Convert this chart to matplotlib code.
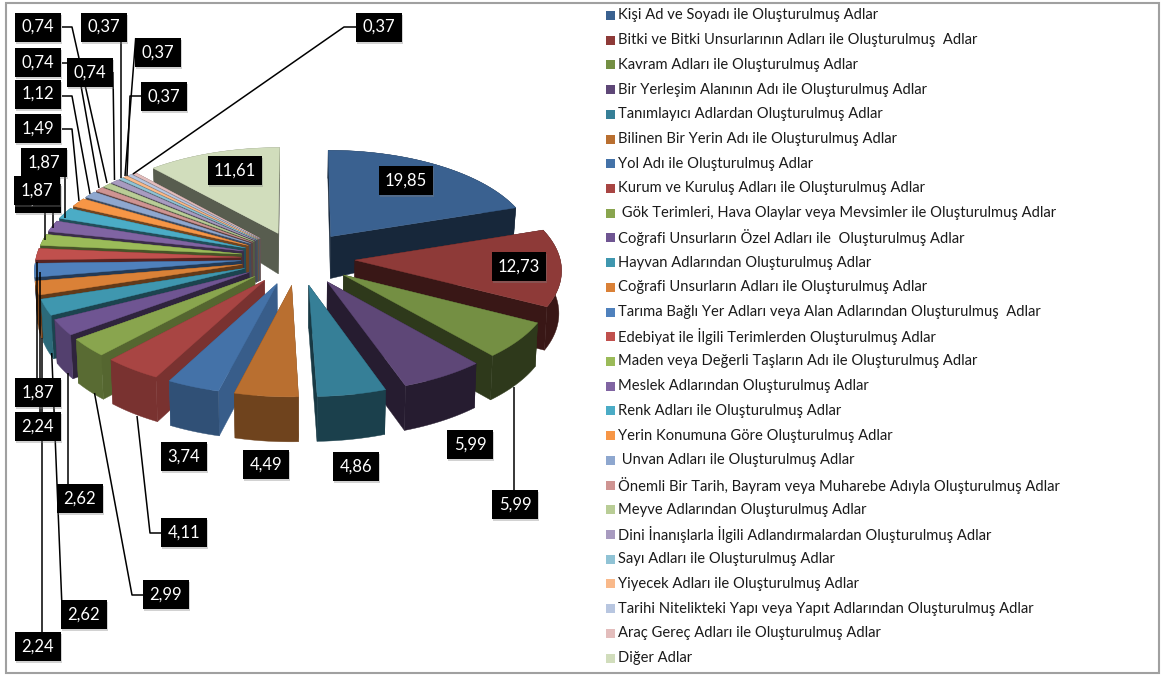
import matplotlib
matplotlib.use("Agg")
import matplotlib.pyplot as plt
from matplotlib.colors import to_rgb
from matplotlib.patches import Polygon, Rectangle
import numpy as np

plt.rcParams['font.family'] = ['Lato', 'DejaVu Sans']

# legend names, same order as the slices
names = ["Kişi Ad ve Soyadı ile Oluşturulmuş Adlar",
         "Bitki ve Bitki Unsurlarının Adları ile Oluşturulmuş  Adlar",
         "Kavram Adları ile Oluşturulmuş Adlar",
         "Bir Yerleşim Alanının Adı ile Oluşturulmuş Adlar",
         "Tanımlayıcı Adlardan Oluşturulmuş Adlar",
         "Bilinen Bir Yerin Adı ile Oluşturulmuş Adlar",
         "Yol Adı ile Oluşturulmuş Adlar",
         "Kurum ve Kuruluş Adları ile Oluşturulmuş Adlar",
         " Gök Terimleri, Hava Olaylar veya Mevsimler ile Oluşturulmuş Adlar",
         "Coğrafi Unsurların Özel Adları ile  Oluşturulmuş Adlar",
         "Hayvan Adlarından Oluşturulmuş Adlar",
         "Coğrafi Unsurların Adları ile Oluşturulmuş Adlar",
         "Tarıma Bağlı Yer Adları veya Alan Adlarından Oluşturulmuş  Adlar",
         "Edebiyat ile İlgili Terimlerden Oluşturulmuş Adlar",
         "Maden veya Değerli Taşların Adı ile Oluşturulmuş Adlar",
         "Meslek Adlarından Oluşturulmuş Adlar",
         "Renk Adları ile Oluşturulmuş Adlar",
         "Yerin Konumuna Göre Oluşturulmuş Adlar",
         " Unvan Adları ile Oluşturulmuş Adlar",
         "Önemli Bir Tarih, Bayram veya Muharebe Adıyla Oluşturulmuş Adlar",
         "Meyve Adlarından Oluşturulmuş Adlar",
         "Dini İnanışlarla İlgili Adlandırmalardan Oluşturulmuş Adlar",
         "Sayı Adları ile Oluşturulmuş Adlar",
         "Yiyecek Adları ile Oluşturulmuş Adlar",
         "Tarihi Nitelikteki Yapı veya Yapıt Adlarından Oluşturulmuş Adlar",
         "Araç Gereç Adları ile Oluşturulmuş Adlar",
         "Diğer Adlar"]

values = [19.85, 12.73, 5.99, 5.99, 4.86, 4.49, 3.74, 4.11, 2.99, 2.62, 2.62, 2.24, 2.24,
          1.87, 1.87, 1.87, 1.87, 1.49, 1.12, 0.74, 0.74, 0.74, 0.37, 0.37, 0.37, 0.37, 11.61]

colors = ["#3A6190", "#8E3A38", "#748F43", "#5E4777", "#367F97", "#B96F30",
          "#4472A8", "#A84543", "#89A54E", "#6F5592", "#3F97AF", "#DA8137",
          "#4F81BD", "#C0504D", "#9BBB59", "#8064A2", "#4BACC6", "#F79646",
          "#8EA7CF", "#CF9492", "#B9CD96", "#A89BC0", "#90C3D5", "#F9B98A",
          "#B8C6E0", "#E3BDBC", "#D1DDBC"]

# how dark the side walls of each slice are
radial_dark = [.4, .4, .4, .4, .45, .6, .82, .72, .62, .42, .45, .45, .45,
               .45, .45, .45, .45, .45, .45, .45, .45, .45, .45, .45, .45, .45, .42]
outer_dark = [.4, .4, .4, .4, .5, .6, .7, .72, .65, .75, .7, .6, .6,
              .6, .6, .6, .6, .6, .6, .6, .6, .6, .6, .6, .6, .6, .6]

# projection of the tilted pie
cx, cy = 298, 258
R = 205
A = 97
p = 0.085
explode = 0.278


def project(u, v):
    s = 1 / (1 - p * v)
    return cx + R * u * s, cy + A * v * s


def depth(v):
    return np.interp(v, [-0.55, -0.225, 1.3], [28, 42, 45])


def wall(u, v):
    # top edge and the same edge pushed down, as one polygon
    x, y = project(u, v)
    d = depth(v)
    xb = cx + (x - cx) * 0.99
    yb = y + d
    return np.column_stack([np.r_[x, xb[::-1]], np.r_[y, yb[::-1]]])


fig = plt.figure(figsize=(11.61, 6.75), dpi=100)
ax = fig.add_axes([0, 0, 1, 1])
ax.set_xlim(0, 1161)
ax.set_ylim(675, 0)
ax.axis('off')

ax.add_patch(Rectangle((6, 2.5), 1153, 670, fc='white', ec='#A0A0A0', lw=1.5))

total = sum(values)
edges = np.cumsum([0] + values) / total * 2 * np.pi

slices = []
for i in range(len(values)):
    a0, a1 = edges[i], edges[i + 1]
    mid = (a0 + a1) / 2
    ux, vx = explode * np.sin(mid), -explode * np.cos(mid)
    t = np.linspace(a0, a1, 40)
    us = ux + np.sin(t)
    vs = vx - np.cos(t)
    slices.append((project(ux + np.sin(mid), vx - np.cos(mid))[1], i, ux, vx, us, vs))

# far slices first
slices.sort(key=lambda s: s[0])

for _, i, ux, vx, us, vs in slices:
    top = to_rgb(colors[i])
    rad_col = tuple(c * radial_dark[i] for c in top)
    out_col = tuple(c * outer_dark[i] for c in top)
    faces = [(np.array([ux, us[0]]), np.array([vx, vs[0]]), rad_col),
             (np.array([ux, us[-1]]), np.array([vx, vs[-1]]), rad_col),
             (us, vs, out_col)]
    faces.sort(key=lambda f: project(f[0], f[1])[1].mean())
    for fu, fv, col in faces:
        ax.add_patch(Polygon(wall(fu, fv), closed=True, fc=col, ec=col, lw=0.3))
    x, y = project(np.r_[ux, us], np.r_[vx, vs])
    ax.add_patch(Polygon(np.column_stack([x, y]), closed=True, fc=top, ec=top, lw=0.3))

# leader lines, box side to slice
leaders = [[(356, 27), (344, 27), (133, 174)],
           [(121, 41), (121, 178)],
           [(135.7, 38), (125, 176)],
           [(141, 96), (130, 96), (127, 176)],
           [(113, 72), (114.5, 180)],
           [(62, 27), (72, 27), (107, 183)],
           [(62, 63), (77, 63), (99, 188)],
           [(62, 96), (72, 96), (90, 194)],
           [(62, 129), (72, 129), (79, 201)],
           [(65, 177), (65, 218)],
           [(53, 205), (53, 228)],
           [(44.5, 213), (44.5, 240)],
           [(37, 378), (37, 262)],
           [(39.5, 412), (39.5, 272)],
           [(42, 632), (42, 338)],
           [(68, 484), (68, 373)],
           [(61.7, 600), (51.7, 353)],
           [(143, 595), (132, 595), (94.5, 393)],
           [(161, 533), (150, 533), (137, 416)],
           [(514, 490), (514, 387)]]
for pts in leaders:
    ax.plot([q[0] for q in pts], [q[1] for q in pts], color='black', lw=1.1,
            solid_capstyle='butt', zorder=5)

# value boxes, drawn in order so a later box hides an earlier one
label_text = ["1,87", "0,74", "0,37", "0,37", "0,37", "0,74", "0,74", "1,12", "1,49", "1,87", "1,87",
              "0,37", "1,87", "2,24", "2,62", "3,74", "4,49", "4,86", "4,11", "2,99", "2,62", "2,24",
              "5,99", "5,99", "19,85", "12,73", "11,61"]
label_x = [38, 38, 104, 158, 164, 38, 90, 38, 38, 44, 37,
           379, 38, 38, 80, 184, 266, 356, 184, 166, 84, 38,
           470, 515, 406, 519, 234.5]
label_y = [198.5, 27, 27, 52.5, 96.5, 62.5, 72.5, 94, 128.5, 162.5, 190.5,
           27, 392.5, 426.5, 498.5, 456.5, 464.5, 466.5, 532.5, 594.5, 614.5, 646.5,
           444.5, 504.5, 180.5, 266.5, 170.5]
z = 10
for txt, x, y in zip(label_text, label_x, label_y):
    w = 54 if len(txt) > 4 else 46
    ax.add_patch(Rectangle((x - w / 2 + 1, y - 14.5 + 2), w, 29, fc='#808080', ec='none',
                           alpha=0.35, zorder=z))
    ax.add_patch(Rectangle((x - w / 2, y - 14.5), w, 29, fc='black', ec='none', zorder=z + 1))
    ax.text(x, y, txt, color='white', fontsize=12, ha='center', va='center', zorder=z + 2)
    z += 3

# legend
legend_y = np.linspace(15.5, 658, len(names))
for name, col, y in zip(names, colors, legend_y):
    ax.add_patch(Rectangle((606, y - 4.5), 9, 9, fc=col, ec='none'))
    ax.text(618, y, name, fontsize=10.6, ha='left', va='center', color='#1A1A1A')

fig.savefig("out.png", dpi=100)
